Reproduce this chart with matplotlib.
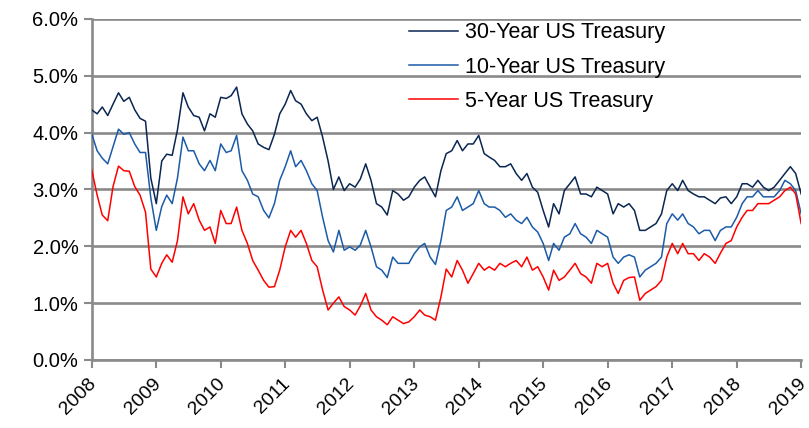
import matplotlib
matplotlib.use("Agg")
import matplotlib.pyplot as plt
import matplotlib.transforms as mtransforms
from matplotlib.ticker import FuncFormatter
import pandas as pd

dates = pd.date_range("2008-01-01", "2019-01-01", freq="MS")

y30 = [4.40, 4.33, 4.45, 4.30, 4.50, 4.70, 4.55, 4.62, 4.40, 4.25, 4.20, 3.20,
       2.75, 3.50, 3.62, 3.60, 4.05, 4.70, 4.45, 4.30, 4.27, 4.03, 4.33, 4.27,
       4.62, 4.60, 4.65, 4.80, 4.33, 4.15, 4.03, 3.80, 3.74, 3.70, 3.97, 4.33,
       4.50, 4.74, 4.56, 4.50, 4.33, 4.21, 4.27, 3.92, 3.50, 3.00, 3.22, 2.98,
       3.10, 3.04, 3.18, 3.45, 3.16, 2.75, 2.69, 2.55, 2.98, 2.92, 2.81, 2.87,
       3.04, 3.16, 3.22, 3.04, 2.87, 3.33, 3.63, 3.68, 3.86, 3.68, 3.80, 3.80,
       3.95, 3.63, 3.57, 3.51, 3.40, 3.40, 3.45, 3.28, 3.16, 3.28, 3.04, 2.95,
       2.63, 2.34, 2.75, 2.57, 2.98, 3.10, 3.22, 2.92, 2.92, 2.87, 3.04, 2.98,
       2.92, 2.57, 2.75, 2.69, 2.75, 2.63, 2.28, 2.28, 2.34, 2.40, 2.57, 2.98,
       3.10, 2.98, 3.16, 2.98, 2.92, 2.87, 2.87, 2.81, 2.75, 2.85, 2.87, 2.75,
       2.87, 3.10, 3.10, 3.04, 3.16, 3.04, 2.98, 3.04, 3.16, 3.28, 3.40, 3.28,
       2.92]

y10 = [3.98, 3.68, 3.55, 3.45, 3.75, 4.06, 3.97, 4.00, 3.80, 3.65, 3.65, 2.85,
       2.28, 2.70, 2.90, 2.75, 3.20, 3.92, 3.68, 3.68, 3.45, 3.33, 3.51, 3.33,
       3.80, 3.65, 3.68, 3.95, 3.33, 3.16, 2.92, 2.87, 2.63, 2.50, 2.75, 3.16,
       3.40, 3.68, 3.40, 3.51, 3.33, 3.10, 2.98, 2.51, 2.10, 1.90, 2.28, 1.93,
       1.99, 1.93, 2.02, 2.28, 1.99, 1.64, 1.58, 1.45, 1.81, 1.70, 1.70, 1.70,
       1.87, 1.99, 2.05, 1.81, 1.68, 2.10, 2.63, 2.69, 2.87, 2.63, 2.69, 2.75,
       2.98, 2.75, 2.69, 2.69, 2.63, 2.51, 2.57, 2.46, 2.40, 2.51, 2.34, 2.25,
       2.05, 1.75, 2.05, 1.93, 2.16, 2.22, 2.40, 2.22, 2.16, 2.05, 2.28, 2.22,
       2.16, 1.81, 1.70, 1.81, 1.85, 1.81, 1.46, 1.58, 1.64, 1.70, 1.81, 2.40,
       2.57, 2.46, 2.57, 2.40, 2.34, 2.22, 2.28, 2.28, 2.10, 2.28, 2.34, 2.34,
       2.51, 2.75, 2.87, 2.87, 2.98, 2.87, 2.87, 2.87, 2.98, 3.16, 3.10, 2.98,
       2.57]

y5 = [3.35, 2.90, 2.55, 2.45, 3.05, 3.41, 3.33, 3.32, 3.05, 2.90, 2.60, 1.60,
      1.46, 1.70, 1.85, 1.72, 2.10, 2.87, 2.57, 2.75, 2.46, 2.28, 2.34, 2.05,
      2.63, 2.40, 2.40, 2.69, 2.28, 2.05, 1.75, 1.58, 1.40, 1.28, 1.29, 1.58,
      1.99, 2.28, 2.16, 2.28, 2.05, 1.75, 1.64, 1.23, 0.88, 1.00, 1.11, 0.94,
      0.88, 0.79, 0.95, 1.17, 0.88, 0.76, 0.70, 0.62, 0.76, 0.70, 0.64, 0.67,
      0.76, 0.88, 0.79, 0.76, 0.70, 1.11, 1.60, 1.46, 1.75, 1.58, 1.35, 1.52,
      1.70, 1.58, 1.64, 1.58, 1.70, 1.64, 1.70, 1.75, 1.64, 1.81, 1.58, 1.64,
      1.46, 1.23, 1.58, 1.40, 1.46, 1.58, 1.70, 1.52, 1.46, 1.35, 1.70, 1.64,
      1.70, 1.35, 1.17, 1.40, 1.45, 1.46, 1.05, 1.17, 1.23, 1.29, 1.40, 1.81,
      2.05, 1.87, 2.05, 1.87, 1.87, 1.75, 1.87, 1.81, 1.70, 1.88, 2.05, 2.10,
      2.34, 2.51, 2.63, 2.63, 2.75, 2.75, 2.75, 2.81, 2.87, 2.98, 3.04, 2.92,
      2.40]

labels = ["30-Year US Treasury", "10-Year US Treasury", "5-Year US Treasury"]
colors = ["#0A2652", "#1C5BA8", "#FF0000"]
year_ticks = list(range(2008, 2020))

plt.rcParams["font.family"] = ["Liberation Sans", "DejaVu Sans"]
fig = plt.figure(figsize=(8.09, 4.28), dpi=100)
ax = fig.add_axes([0.1133, 0.1589, 0.877, 0.797])

grid_c = "#8A8A8A"
for v in range(0, 7):
    ax.axhline(v, color=grid_c, lw=1.9, zorder=1)

for ys, lab, c in zip([y30, y10, y5], labels, colors):
    ax.plot(dates, ys, color=c, lw=1.1, label=lab, zorder=3)

ax.set_ylim(0, 6)
ax.set_xlim(pd.Timestamp("2008-01-01"), pd.Timestamp("2019-01-01"))
ax.set_yticks(range(0, 7))
ax.yaxis.set_major_formatter(FuncFormatter(lambda v, p: f"{v:.1f}%"))
ax.set_xticks([pd.Timestamp(f"{y}-01-01") for y in year_ticks])
ax.set_xticklabels([str(y) for y in year_ticks], rotation=45, ha="right",
                   rotation_mode="anchor")
for sp in ["top", "right"]:
    ax.spines[sp].set_visible(False)
for sp in ["left", "bottom"]:
    ax.spines[sp].set_color(grid_c)
    ax.spines[sp].set_linewidth(1.9)
ax.tick_params(axis="both", colors=grid_c, labelcolor="black", width=1.5,
               length=6, direction="out")
ax.tick_params(axis="y", labelsize=14.5)
ax.tick_params(axis="x", labelsize=14, pad=5)
offset = mtransforms.ScaledTranslation(-3 / 72, 0, fig.dpi_scale_trans)
for lbl in ax.get_xticklabels():
    lbl.set_transform(lbl.get_transform() + offset)

leg = fig.legend(loc="upper left", bbox_to_anchor=(0.505, 0.948), frameon=False,
                 fontsize=15.5, handlelength=2.3, handletextpad=0.3,
                 labelspacing=0.62, borderpad=0, borderaxespad=0)

fig.savefig("out.png", dpi=100, facecolor="white")
